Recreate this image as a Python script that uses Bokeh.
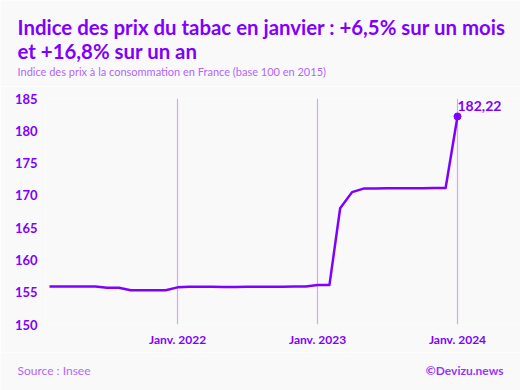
from datetime import datetime, timedelta
from bokeh.plotting import figure
from bokeh.layouts import column
from bokeh.models import Range1d, FixedTicker, Label
from bokeh.embed import file_html
from bokeh.resources import INLINE

# ---- data ----
months = ["2021-02", "2021-03", "2021-04", "2021-05", "2021-06", "2021-07",
          "2021-08", "2021-09", "2021-10", "2021-11", "2021-12", "2022-01",
          "2022-02", "2022-03", "2022-04", "2022-05", "2022-06", "2022-07",
          "2022-08", "2022-09", "2022-10", "2022-11", "2022-12", "2023-01",
          "2023-02", "2023-03", "2023-04", "2023-05", "2023-06", "2023-07",
          "2023-08", "2023-09", "2023-10", "2023-11", "2023-12", "2024-01"]
index_values = [155.9, 155.9, 155.9, 155.9, 155.9, 155.7,
                155.7, 155.3, 155.3, 155.3, 155.3, 155.75,
                155.85, 155.85, 155.85, 155.8, 155.8, 155.85,
                155.85, 155.85, 155.85, 155.9, 155.9, 156.1,
                156.1, 168.0, 170.5, 171.05, 171.05, 171.1,
                171.1, 171.1, 171.1, 171.15, 171.15, 182.22]
tick_dates = ["2022-01", "2023-01", "2024-01"]
tick_labels = ["Janv. 2022", "Janv. 2023", "Janv. 2024"]
y_ticks = [150, 155, 160, 165, 170, 175, 180, 185]
last_label = "182,22"

title_1 = "Indice des prix du tabac en janvier : +6,5% sur un mois"
title_2 = "et +16,8% sur un an"
subtitle = "Indice des prix à la consommation en France (base 100 en 2015)"
source = "Source : Insee"
credit = "©Devizu.news"

# ---- styles ----
PURPLE = "#8000ff"
LIGHT = "#b366ff"
GRID = "#d4a6ff"
BG = "#f9f9f9"
FONT = "Lato"

xs = [datetime.strptime(m, "%Y-%m") for m in months]
tick_x = [datetime.strptime(m, "%Y-%m") for m in tick_dates]


def ms(d):
    return (d - datetime(1970, 1, 1)).total_seconds() * 1000.0


def no_align(f):
    if "frame_align" in f.properties():
        f.frame_align = False


W = 520
HEAD_H, MAIN_H, FOOT_H = 86, 266, 38


def blank(h):
    f = figure(width=W, height=h, x_range=Range1d(0, 1), y_range=Range1d(0, 1),
               output_backend="svg", toolbar_location=None,
               x_axis_location=None, y_axis_location=None,
               min_border=0, min_border_left=0, min_border_right=0,
               min_border_top=0, min_border_bottom=0)
    f.grid.visible = False
    f.outline_line_color = None
    f.background_fill_color = BG
    f.border_fill_color = BG
    no_align(f)
    return f


def add_text(f, h, page_y0, txt, x, page_y, size, color, bold=False, align="left"):
    f.add_layout(Label(x=x, y=h - (page_y - page_y0), x_units="screen",
                       y_units="screen", text=txt, text_align=align,
                       text_baseline="alphabetic", text_color=color,
                       text_font=FONT,
                       text_font_style="bold" if bold else "normal",
                       text_font_size=size))


# ---------- header ----------
header = blank(HEAD_H)
add_text(header, HEAD_H, 0, title_1, 17, 26, "20.4px", PURPLE, bold=True)
add_text(header, HEAD_H, 0, title_2, 17, 50.5, "20.4px", PURPLE, bold=True)
add_text(header, HEAD_H, 0, subtitle, 17, 71, "11px", LIGHT)

# ---------- main chart ----------
left, right, top, bottom = 45, 0, 12, 28
frame_w = W - left - right
px_per_day = 408.0 / 1064.0
start = xs[0] - timedelta(days=4.0 / px_per_day)
end = start + timedelta(days=frame_w / px_per_day)

p = figure(width=W, height=MAIN_H, x_axis_type="datetime",
           x_range=Range1d(start, end), y_range=Range1d(150, 185),
           output_backend="svg", toolbar_location=None,
           min_border_left=left, min_border_right=right,
           min_border_top=top, min_border_bottom=bottom)
p.background_fill_color = BG
p.border_fill_color = BG
p.outline_line_color = None
no_align(p)

p.line(xs, index_values, line_color=PURPLE, line_width=2.5, line_join="round")
p.scatter([xs[-1]], [index_values[-1]], size=7, color=PURPLE)

tick_ms = [ms(d) for d in tick_x]
p.xaxis.ticker = FixedTicker(ticks=tick_ms)
p.xaxis.major_label_overrides = {t: l for t, l in zip(tick_ms, tick_labels)}
p.yaxis.ticker = FixedTicker(ticks=y_ticks)
for ax in (p.xaxis, p.yaxis):
    ax.axis_line_color = None
    ax.major_tick_line_color = None
    ax.minor_tick_line_color = None
    ax.major_tick_in = 0
    ax.major_tick_out = 0
    ax.minor_tick_out = 0
    ax.major_label_text_color = PURPLE
    ax.major_label_text_font = FONT
    ax.major_label_text_font_style = "bold"
p.xaxis.major_label_text_font_size = "12px"
p.yaxis.major_label_text_font_size = "13px"
p.xaxis.major_label_standoff = 7
p.yaxis.major_label_standoff = 8

p.xgrid.ticker = FixedTicker(ticks=tick_ms)
p.xgrid.grid_line_color = GRID
p.xgrid.grid_line_width = 1.2
p.ygrid.grid_line_color = None

p.add_layout(Label(x=xs[-1], y=index_values[-1], text=last_label,
                   x_offset=0, y_offset=10, text_align="left",
                   text_baseline="alphabetic", text_color=PURPLE,
                   text_font=FONT, text_font_style="bold",
                   text_font_size="14px"))

# ---------- footer ----------
footer = blank(FOOT_H)
y0 = HEAD_H + MAIN_H
add_text(footer, FOOT_H, y0, source, 17, 369.5, "12px", LIGHT)
add_text(footer, FOOT_H, y0, credit, 503, 369.5, "12px", "#9a33ff", bold=True,
         align="right")

layout = column(header, p, footer, spacing=0)
open("out.html", "w").write(file_html(layout, INLINE))
